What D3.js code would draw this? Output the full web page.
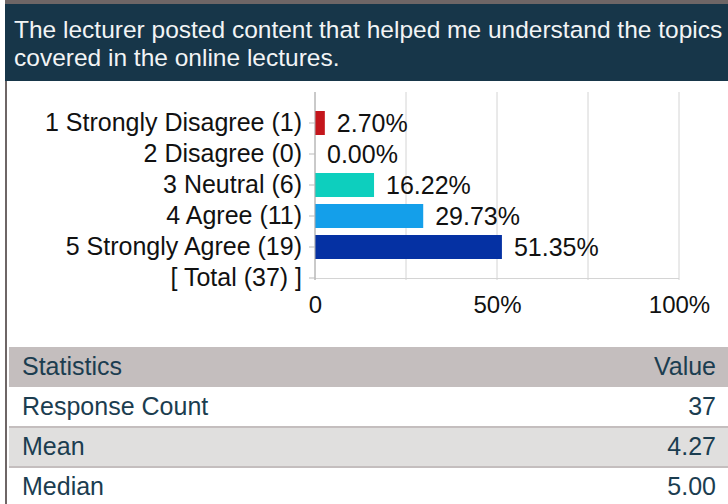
<!DOCTYPE html>
<html>
<head>
<meta charset="utf-8">
<script src="https://cdn.jsdelivr.net/npm/d3@7"></script>
<style>
  body { margin: 0; background: #fff; }
  svg { display: block; font-family: "Liberation Sans", Arial, sans-serif; }
</style>
</head>
<body>
<script>
const titleLines = ['The lecturer posted content that helped me understand the topics', 'covered in the online lectures.']
const categories = ['1 Strongly Disagree (1)', '2 Disagree (0)', '3 Neutral (6)', '4 Agree (11)', '5 Strongly Agree (19)', '[ Total (37) ]']
const percents = [2.70, 0.00, 16.22, 29.73, 51.35, null]
const barColors = ['#c4161c', '#c4161c', '#0dcfbe', '#149fea', '#0531a3', 'none']
const gridTicks = [0, 25, 50, 75, 100]
const tickLabels = [0, 50, 100]
const statHeader = ['Statistics', 'Value']
const statNames = ['Response Count', 'Mean', 'Median']
const statValues = ['37', '4.27', '5.00']

const width = 728
const height = 504
const chart = { left: 315, right: 679, top: 92, bottom: 280 }
const font = '"Liberation Sans", Arial, sans-serif'

const svg = d3.select('body').append('svg')
  .attr('width', width)
  .attr('height', height)

// frame
svg.append('rect').attr('x', 5).attr('y', 0).attr('width', width).attr('height', 4).attr('fill', '#6e6666')
svg.append('rect').attr('x', 5).attr('y', 0).attr('width', 2).attr('height', height).attr('fill', '#6e6666')

// header
svg.append('rect')
  .attr('x', 5).attr('y', 4)
  .attr('width', width).attr('height', 77)
  .attr('fill', '#173649')

svg.append('g').selectAll('text')
  .data(titleLines)
  .join('text')
  .attr('x', 14)
  .attr('y', (d, i) => 38 + i * 28)
  .attr('fill', '#f2f4f5')
  .style('font-size', '24.5px')
  .text(d => d)

// scales
const x = d3.scaleLinear().domain([0, 100]).range([chart.left, chart.right])
const y = d3.scaleBand().domain(categories).range([107.5, 293.5]).paddingInner(0.226).paddingOuter(0.113)

const main = svg.append('g')

// grid
main.append('g').selectAll('line')
  .data(gridTicks)
  .join('line')
  .attr('x1', d => x(d)).attr('x2', d => x(d))
  .attr('y1', chart.top).attr('y2', chart.bottom)
  .attr('stroke', '#d4d4d4')
  .attr('stroke-width', 1)

main.append('line')
  .attr('x1', chart.left).attr('x2', chart.right)
  .attr('y1', chart.bottom - 1.5).attr('y2', chart.bottom - 1.5)
  .attr('stroke', '#d4d4d4')

// bars
main.append('g').selectAll('rect')
  .data(categories.filter((d, i) => percents[i] !== null))
  .join('rect')
  .attr('x', x(0))
  .attr('y', d => y(d))
  .attr('width', (d, i) => x(percents[i]) - x(0))
  .attr('height', y.bandwidth())
  .attr('fill', (d, i) => barColors[i])

// y axis
const yAxis = d3.axisLeft(y).tickSize(6).tickPadding(7)
const yg = main.append('g')
  .attr('transform', `translate(${chart.left},0)`)
  .call(yAxis)
yg.select('.domain').attr('stroke', '#aaa').attr('d', `M0,${chart.top}V${chart.bottom}`)
yg.selectAll('.tick line').attr('stroke', '#bbb')
yg.selectAll('.tick text')
  .attr('fill', '#111')
  .style('font-size', '25px')
  .style('font-family', font)

// value labels
main.append('g').selectAll('text')
  .data(categories.filter((d, i) => percents[i] !== null))
  .join('text')
  .attr('x', (d, i) => x(percents[i]) + 12)
  .attr('y', d => y(d) + y.bandwidth() / 2)
  .attr('dy', '0.36em')
  .attr('fill', '#111')
  .style('font-size', '25px')
  .text((d, i) => percents[i].toFixed(2) + '%')

// x axis labels
const xAxis = d3.axisBottom(x)
  .tickValues(tickLabels)
  .tickSize(0)
  .tickPadding(16)
  .tickFormat(d => d === 0 ? '0' : d + '%')
const xg = main.append('g')
  .attr('transform', `translate(0,${chart.bottom})`)
  .call(xAxis)
xg.select('.domain').remove()
xg.selectAll('.tick text')
  .attr('fill', '#111')
  .style('font-size', '24px')
  .style('font-family', font)

// statistics table
const rowH = 40
const tableTop = 347
const tbl = svg.append('g')

tbl.append('rect')
  .attr('x', 9).attr('y', tableTop)
  .attr('width', width - 9).attr('height', rowH)
  .attr('fill', '#c4bebe')

const rows = tbl.selectAll('g.row')
  .data(statNames)
  .join('g')
  .attr('class', 'row')
  .attr('transform', (d, i) => `translate(0,${tableTop + rowH * (i + 1)})`)

rows.append('rect')
  .attr('x', 9).attr('y', 0)
  .attr('width', width - 9).attr('height', rowH)
  .attr('fill', (d, i) => i % 2 === 1 ? '#e0dfde' : '#fff')

rows.filter((d, i) => i > 0).append('rect')
  .attr('x', 9).attr('y', -1)
  .attr('width', width - 9).attr('height', 2)
  .attr('fill', '#c4bebe')

const textColor = '#1b3d50'
tbl.append('text').attr('x', 22).attr('y', tableTop + 28).attr('fill', textColor)
  .style('font-size', '25px').text(statHeader[0])
tbl.append('text').attr('x', 716).attr('y', tableTop + 28).attr('fill', textColor)
  .attr('text-anchor', 'end').style('font-size', '25px').text(statHeader[1])

rows.append('text').attr('x', 22).attr('y', 28).attr('fill', textColor)
  .style('font-size', '25px').text(d => d)
rows.append('text').attr('x', 716).attr('y', 28).attr('fill', textColor)
  .attr('text-anchor', 'end').style('font-size', '25px').text((d, i) => statValues[i])
</script>
</body>
</html>
